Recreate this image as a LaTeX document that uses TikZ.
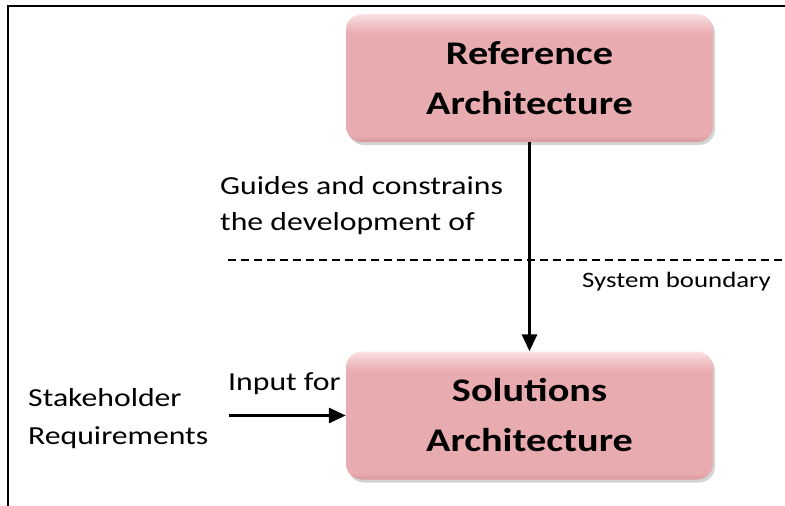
\documentclass[tikz,border=0pt]{standalone}
\usepackage{fontspec}
\setmainfont{Carlito}[FakeStretch=1.22]
\usetikzlibrary{arrows.meta,shadows}
\definecolor{boxpink}{HTML}{E8ABAF}
\definecolor{boxmid}{HTML}{F1C3C6}
\definecolor{boxlight}{HTML}{FAE2E4}
\definecolor{boxdark}{HTML}{D9979C}
\pgfdeclareverticalshading{bevel}{100bp}{color(0bp)=(boxdark); color(25bp)=(boxdark); color(27.5bp)=(boxpink); color(67bp)=(boxpink); color(71bp)=(boxmid); color(75bp)=(boxlight); color(100bp)=(boxlight)}
\tikzset{
  archbox/.style={draw=none, rounded corners=16pt, minimum width=367pt, minimum height=128pt,
    shade, shading=bevel,
    drop shadow={shadow xshift=2pt, shadow yshift=-3pt, opacity=0.35},
    font=\fontsize{33}{50}\selectfont\bfseries, align=center, text=black},
  lbl/.style={font=\fontsize{26}{36}\selectfont, align=left, inner sep=0pt, anchor=base west},
  conn/.style={line width=3pt, -{Triangle[width=15pt,length=17pt]}},
}
\begin{document}
\begin{tikzpicture}[x=1pt,y=-1pt]
\useasboundingbox (0,0) rectangle (785,506);
\draw[line width=2pt] (8,506) -- (8,6) -- (785,6);
\node[archbox] (ref) at (529.5,78) {Reference\\Architecture};
\node[archbox] (sol) at (529.5,415.5) {Solutions\\Architecture};
\coordinate (dl) at (228,260);
\coordinate (dr) at (785,260);
\draw[line width=1.3pt, dash pattern=on 8pt off 5pt] (dl) -- (dr);
\draw[conn] (ref.south) -- (sol.north);
\coordinate (inp) at (229,415.5);
\draw[conn] (inp) -- (sol.west);
\node[lbl] (guide) at (220,230) {Guides and constrains\\the development of};
\node[lbl] (stake) at (28,444) {Stakeholder\\[2pt]Requirements};
\node[lbl] (input) at (228,390) {Input for};
\node[lbl, font=\fontsize{22}{26}\selectfont] (sysb) at (582,287) {System boundary};
\end{tikzpicture}
\end{document}
